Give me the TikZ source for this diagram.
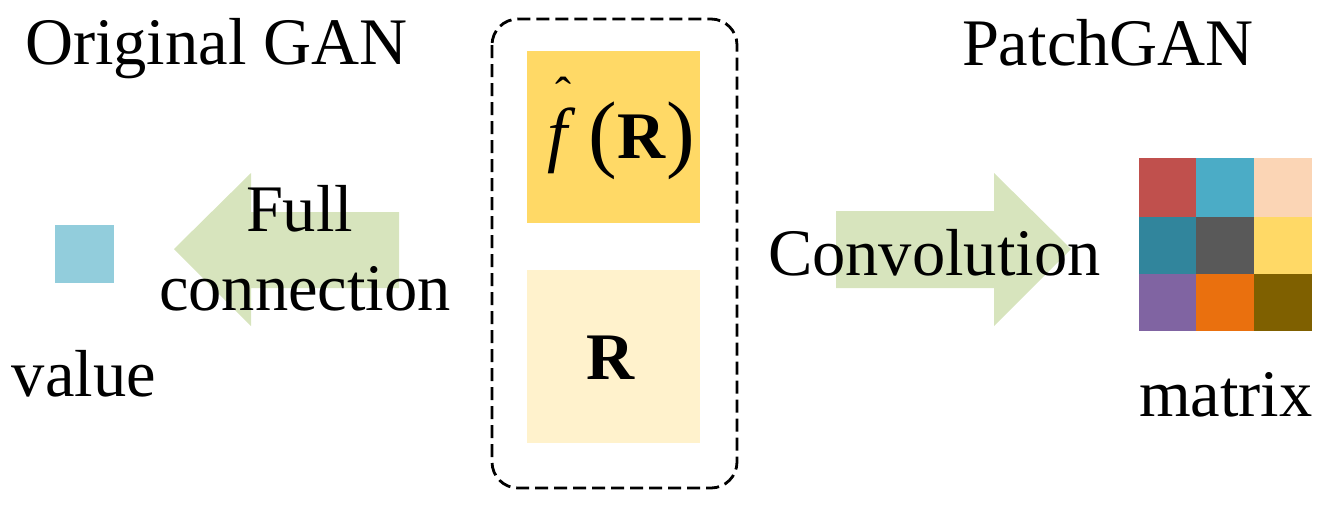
\documentclass[tikz,border=0pt]{standalone}
\usepackage{fontspec}
\setmainfont{Liberation Serif}
\definecolor{arrowgreen}{HTML}{D7E4BD}
\definecolor{valblue}{HTML}{92CDDC}
\definecolor{gold}{HTML}{FFD966}
\definecolor{lightgold}{HTML}{FFF2CC}
\definecolor{mred}{HTML}{C0504D}
\definecolor{maqua}{HTML}{4BACC6}
\definecolor{mpeach}{HTML}{FBD5B5}
\definecolor{mteal}{HTML}{31859C}
\definecolor{mgray}{HTML}{595959}
\definecolor{myellow}{HTML}{FFD966}
\definecolor{mpurple}{HTML}{8064A2}
\definecolor{morange}{HTML}{EA700E}
\definecolor{molive}{HTML}{7F6000}
\tikzset{
  lbl/.style={inner sep=0pt, outer sep=0pt, font=\fontsize{66.5}{80}\selectfont},
  paren/.style={inner sep=0pt, outer sep=0pt, font=\fontsize{86}{100}\selectfont},
  blockarrow/.style={fill=arrowgreen, draw=none},
  dashbox/.style={draw=black, line width=2.8pt, dash pattern=on 13pt off 6pt, rounded corners=26pt}
}
\begin{document}
\begin{tikzpicture}[x=1pt,y=-1pt]
\useasboundingbox (0,0) rectangle (1330,509);
% block arrows
\fill[blockarrow] (174,249) -- (251,173) -- (251,212) -- (399,212) -- (399,288) -- (251,288) -- (251,326) -- cycle;
\fill[blockarrow] (836,211) -- (994,211) -- (994,173) -- (1071,249) -- (994,326) -- (994,288) -- (836,288) -- cycle;
% dashed container
\draw[dashbox] (492,19) rectangle (737,488);
% squares
\fill[gold] (527,51) rectangle (700,223);
\fill[lightgold] (527,270) rectangle (700,443);
\fill[valblue] (55,225) rectangle (114,283);
% matrix
\fill[mred] (1139,158) rectangle (1196,217);
\fill[maqua] (1196,158) rectangle (1254,217);
\fill[mpeach] (1254,158) rectangle (1312,217);
\fill[mteal] (1139,217) rectangle (1196,274);
\fill[mgray] (1196,217) rectangle (1254,274);
\fill[myellow] (1254,217) rectangle (1312,274);
\fill[mpurple] (1139,274) rectangle (1196,331);
\fill[morange] (1196,274) rectangle (1254,331);
\fill[molive] (1254,274) rectangle (1312,331);
% texts
\node[lbl, anchor=base west] (orig) at (25,64) {Original GAN};
\node[lbl, anchor=base west] (patch) at (962,65) {PatchGAN};
\node[lbl, anchor=base west] (full) at (246,231) {Full};
\node[lbl, anchor=base west] (conn) at (159,310) {connection};
\node[lbl, anchor=base west] (conv) at (768,275) {Convolution};
\node[lbl, anchor=base west] (value) at (12,396) {value};
\node[lbl, anchor=base west] (matrix) at (1139,416) {matrix};
% f-hat (R)
\node[inner sep=0pt, outer sep=0pt, font=\fontsize{72}{80}\selectfont\itshape] (f) at (557.5,140.5) {f};
\node[inner sep=0pt, outer sep=0pt, font=\fontsize{48}{48}\selectfont] (hat) at (563,93.5) {ˆ};
\node[paren] (lp) at (602.5,141) {(};
\node[lbl, anchor=base] (rtop) at (641.5,158) {\bfseries R};
\node[paren] (rp) at (681,141) {)};
\node[lbl, anchor=base] (rbot) at (610.5,379) {\bfseries R};
\end{tikzpicture}
\end{document}
